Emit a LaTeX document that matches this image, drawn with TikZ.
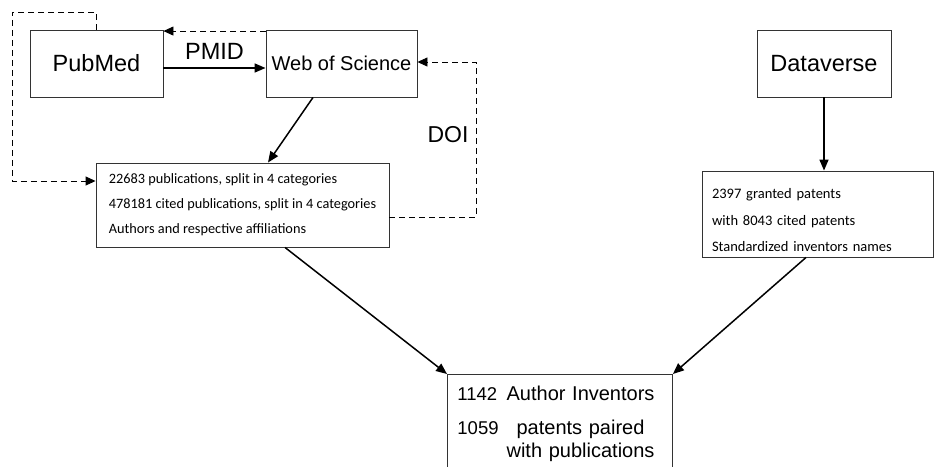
\documentclass[tikz,border=0pt]{standalone}
\usepackage{fontspec}
\setmainfont{Liberation Sans}
\newfontfamily\calib{Carlito}
\usetikzlibrary{arrows.meta}

\begin{document}
\begin{tikzpicture}[x=1pt, y=-1pt,
  srcbox/.style={draw=black!80, line width=0.9pt, minimum height=67pt, inner sep=0pt},
  infobox/.style={draw=black!80, line width=0.9pt, align=left, inner ysep=0pt},
  flow/.style={-{Triangle[length=11pt,width=9pt]}, line width=1.5pt},
  link/.style={-{Triangle[length=10pt,width=9pt]}, line width=0.9pt, dash pattern=on 6pt off 4pt}]

  \useasboundingbox (0,0) rectangle (934,466);
  \clip (0,0) rectangle (934,466);

  \newcommand\FBIG{\fontsize{23.5}{28}\selectfont}
  \newcommand\FSMALL{\calib\fontsize{14.3}{25}\selectfont}
  \newcommand\FNUM{\fontsize{18.5}{23}\selectfont}

  % sources
  \node[srcbox, minimum width=133pt, font=\FBIG] (pubmed) at (96.5,63.5) {PubMed};
  \node[srcbox, minimum width=151pt, font=\fontsize{20}{24}\selectfont] (wos) at (341.5,63.5) {Web of Science};
  \node[srcbox, minimum width=134pt, font=\FBIG] (dataverse) at (824,63.5) {Dataverse};

  % collected data
  \node[infobox, minimum width=293pt, minimum height=84pt, font=\FSMALL]
    (pubs) at (242.5,205) {22683 publications, split in 4 categories\\
    478181 cited publications, split in 4 categories\\
    Authors and respective affiliations};
  \node[infobox, minimum width=231pt, minimum height=86pt, text width=211pt, inner xsep=10pt,
    font=\calib\fontsize{14.5}{26.5}\selectfont]
    (patents) at (817.5,214) {\rule{0pt}{23pt}2397 granted patents\\
    with 8043 cited patents\\
    Standardized inventors names};
  \node[infobox, anchor=north west, text width=205pt, inner xsep=10pt, inner ysep=10pt,
    font=\fontsize{20}{23}\selectfont]
    (author) at (447,374) {\begin{tabular}{@{}l@{\hspace{8pt}}c@{}}
      \FNUM 1142 & Author Inventors\\[11pt]
      \FNUM 1059 & patents paired\\
           & with publications
    \end{tabular}};

  \coordinate (loopA) at (12,12);
  \coordinate (loopB) at (476,62);

  \draw[flow] ([yshift=-4.5pt]pubmed.east) -- node[above=4pt, font=\FBIG]{PMID} ([yshift=-4.5pt]wos.west);
  \draw[link] ([yshift=-1.5pt]wos.north west) -- ([yshift=-1.5pt]pubmed.north east);
  \draw[link] (pubmed.north) |- (loopA) |- ([yshift=24pt]pubs.west);
  \draw[link] ([yshift=-12pt]pubs.east) -| (loopB) -- (loopB -| wos.east);
  \node[font=\fontsize{23}{27}\selectfont] (doi) at (448,135) {DOI};

  \draw[flow] ([xshift=-28.5pt]wos.south) -- ([xshift=25.5pt]pubs.north);
  \draw[flow] (dataverse.south) -- (dataverse.south |- patents.north);

  \draw[flow] ([xshift=42.5pt]pubs.south) -- (author.north west);
  \draw[flow] ([xshift=-11.5pt]patents.south) -- (author.north east);

\end{tikzpicture}
\end{document}
